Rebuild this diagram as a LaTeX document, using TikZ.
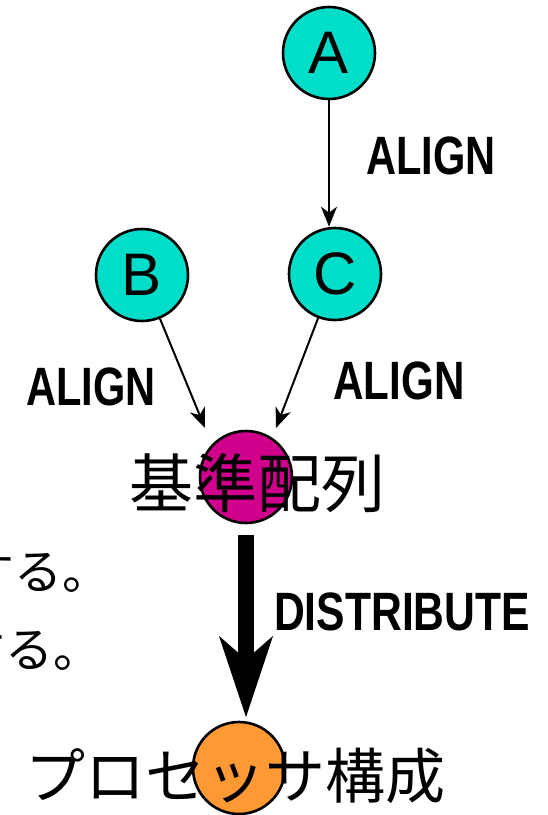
\documentclass[tikz,border=0pt]{standalone}
\usepackage{fontspec}
\setmainfont{Liberation Sans}
\newfontfamily\jpfont{Noto Sans CJK JP}
\usetikzlibrary{arrows.meta}
\definecolor{nodeteal}{RGB}{0,222,202}
\definecolor{nodemagenta}{RGB}{208,0,140}
\definecolor{nodeorange}{RGB}{255,153,51}
\begin{document}
\begin{tikzpicture}[x=1pt,y=-1pt,
  bubble/.style={circle,draw=black,line width=2.6pt,minimum size=92pt,inner sep=0pt},
  letter/.style={font=\fontsize{60}{60}\selectfont},
  jp/.style={font=\jpfont\fontsize{#1}{#1}\selectfont,inner sep=0pt},
  lbl/.style={inner sep=0pt,font=\bfseries\fontsize{54}{54}\selectfont},
  conn/.style={line width=2pt,-{Stealth[length=20pt,width=16pt,inset=6pt]}},
  bigarrow/.style={line width=16pt,-{Stealth[length=80pt,width=52pt,inset=22pt]}}]
\useasboundingbox (0,0) rectangle (547,815);

% source nodes
\node[bubble,fill=nodeteal,letter] (A) at (329,53) {A};
\node[bubble,fill=nodeteal,letter] (B) at (142,275) {B};
\node[bubble,fill=nodeteal,letter] (C) at (335,274) {C};

% base array and processor configuration
\node[bubble,fill=nodemagenta] (M) at (246,477) {};
\node[jp=64] (Mtext) at (257,483) {基準配列};
\node[bubble,fill=nodeorange] (P) at (239,768) {};
\node[jp=60] (Ptext) at (236,776) {プロセッサ構成};

% side notes
\node[jp=48,anchor=east] (note1) at (111,572) {する。};
\node[jp=48,anchor=east] (note2) at (102,650) {する。};

% edge labels
\node[lbl] (lab1) at (431,156) {\scalebox{0.77}[1]{ALIGN}};
\node[lbl] (lab2) at (91,387) {\scalebox{0.77}[1]{ALIGN}};
\node[lbl] (lab3) at (399,381) {\scalebox{0.78}[1]{ALIGN}};
\node[lbl] (lab4) at (402,612) {\scalebox{0.79}[1]{DISTRIBUTE}};

% connectors
\coordinate (tipB) at (205,428);
\coordinate (tipC) at (276,428);
\draw[conn] (A) -- (A.south |- C.north);
\draw[conn] (B) -- (tipB);
\draw[conn] (C) -- (tipC);
\draw[bigarrow,shorten <=11pt,shorten >=3pt] (M.south) -- (M.south |- P.north);
\end{tikzpicture}
\end{document}
